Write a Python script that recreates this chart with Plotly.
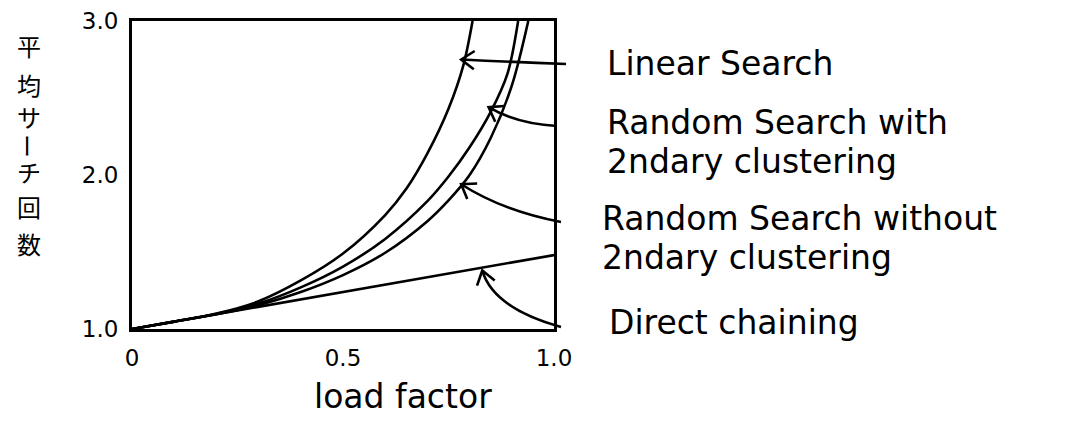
import math
import plotly.graph_objects as go

# ---------------- data ----------------
lf_linear = [0.0, 0.1, 0.2, 0.3, 0.4, 0.5, 0.6, 0.65, 0.7, 0.75, 0.785, 0.807]
avg_linear = [1.0, 1.048, 1.10, 1.18, 1.315, 1.49, 1.74, 1.91, 2.14, 2.43, 2.71, 3.0]

lf_rand_with = [0.0, 0.1, 0.2, 0.3, 0.4, 0.5, 0.6, 0.7, 0.75, 0.8, 0.85, 0.89, 0.915]
avg_rand_with = [1.0, 1.048, 1.098, 1.165, 1.27, 1.405, 1.585, 1.83, 1.99, 2.18, 2.41, 2.66, 3.0]

lf_rand_without = [0.0, 0.1, 0.2, 0.3, 0.4, 0.5, 0.6, 0.7, 0.75, 0.8, 0.85, 0.9, 0.939]
avg_rand_without = [1.0, 1.048, 1.096, 1.155, 1.24, 1.35, 1.495, 1.70, 1.835, 2.0, 2.24, 2.58, 3.0]

lf_direct = [0.0, 1.0]
avg_direct = [1.0, 1.48]

x_ticks = [0, 0.5, 1.0]
x_tick_labels = ["0", "0.5", "1.0"]
y_ticks = [1.0, 2.0, 3.0]
y_tick_labels = ["1.0", "2.0", "3.0"]

x_title = "load factor"
y_title = "平均サーチ回数"

label_lines = [
    "Linear Search",
    "Random Search with",
    "2ndary clustering",
    "Random Search without",
    "2ndary clustering",
    "Direct chaining",
]
# arrow target points on each curve (data units)
arrow_targets = [(0.78, 2.75), (0.845, 2.44), (0.78, 1.94), (0.83, 1.38)]

# ---------------- layout constants ----------------
BODY = 8                      # default page margin of the html body
W, H = 1069 - BODY, 425 - BODY
ML, MT = 132 - BODY, 21 - BODY
PW, PH = 422, 308
MR = W - ML - PW
MB = H - MT - PH
X_RANGE = [0, 1.0]
Y_RANGE = [1.0, 3.0]
HAND = "DejaVu Sans"
INK = "black"
LW = 2.6


def px_to_paper(px, py):
    """page pixel (reference picture) -> paper coords of the plot area"""
    return (px - 132) / PW, 1 - (py - 21) / PH


def to_paper(x, y):
    return ((x - X_RANGE[0]) / (X_RANGE[1] - X_RANGE[0]),
            (y - Y_RANGE[0]) / (Y_RANGE[1] - Y_RANGE[0]))


fig = go.Figure()
curve_style = dict(mode="lines", line=dict(color=INK, width=LW, shape="spline", smoothing=0.9),
                   hoverinfo="skip", showlegend=False)
fig.add_trace(go.Scatter(x=lf_linear, y=avg_linear, name="Linear Search", **curve_style))
fig.add_trace(go.Scatter(x=lf_rand_with, y=avg_rand_with, name="Random Search with 2ndary clustering", **curve_style))
fig.add_trace(go.Scatter(x=lf_rand_without, y=avg_rand_without, name="Random Search without 2ndary clustering", **curve_style))
fig.add_trace(go.Scatter(x=lf_direct, y=avg_direct, mode="lines", name="Direct chaining",
                         line=dict(color=INK, width=LW), hoverinfo="skip", showlegend=False))

# tails and control points (reference-picture pixels) for the curved arrows
arrow_tails_px = [(566, 64), (557, 126), (561, 222), (561, 327)]
arrow_ctrl_px = [(512, 62), (517, 124), (503, 211), (493, 308)]

shapes = []
for (tpx, tpy), (cpx, cpy), (dx, dy) in zip(arrow_tails_px, arrow_ctrl_px, arrow_targets):
    tx, ty = px_to_paper(tpx, tpy)
    cx, cy = px_to_paper(cpx, cpy)
    hx, hy = to_paper(dx, dy)
    shapes.append(dict(type="path", xref="paper", yref="paper",
                       path=f"M {tx},{ty} Q {cx},{cy} {hx},{hy}",
                       line=dict(color=INK, width=LW)))
    # open V arrowhead, computed in pixel space
    vx = (cx - hx) * PW
    vy = (cy - hy) * PH
    n = math.hypot(vx, vy)
    vx, vy = vx / n, vy / n
    L = 16
    arms = []
    for ang in (math.radians(35), -math.radians(35)):
        ax = vx * math.cos(ang) - vy * math.sin(ang)
        ay = vx * math.sin(ang) + vy * math.cos(ang)
        arms.append((hx + ax * L / PW, hy + ay * L / PH))
    shapes.append(dict(type="path", xref="paper", yref="paper",
                       path=f"M {arms[0][0]},{arms[0][1]} L {hx},{hy} L {arms[1][0]},{arms[1][1]}",
                       line=dict(color=INK, width=LW)))

annotations = []
label_px = [(605, 63), (605, 122), (605, 161), (600, 218), (600, 258), (607, 322)]
for txt, (lpx, lpy) in zip(label_lines, label_px):
    lx, ly = px_to_paper(lpx, lpy)
    annotations.append(dict(text=txt, x=lx, y=ly, xref="paper", yref="paper",
                            xanchor="left", yanchor="middle", align="left", showarrow=False,
                            font=dict(family=HAND, size=33, color=INK)))

tx, ty = px_to_paper(403, 396)
annotations.append(dict(text=x_title, x=tx, y=ty, xref="paper", yref="paper",
                        xanchor="center", yanchor="middle", showarrow=False,
                        font=dict(family=HAND, size=33, color=INK)))

# vertical (tategaki) y title, one character per row
char_centers_py = [45, 84, 116, 146, 171, 206, 243]
for ch, cpy in zip(y_title, char_centers_py):
    cx, cy = px_to_paper(29, cpy)
    annotations.append(dict(text=ch, x=cx, y=cy, xref="paper", yref="paper",
                            xanchor="center", yanchor="middle", showarrow=False,
                            textangle=90 if ch == "ー" else 0,
                            font=dict(family="Noto Sans CJK JP", size=24, color=INK)))

fig.update_layout(
    width=W, height=H,
    margin=dict(l=ML, r=MR, t=MT, b=MB, pad=0, autoexpand=False),
    paper_bgcolor="white", plot_bgcolor="white",
    shapes=shapes, annotations=annotations,
    xaxis=dict(range=X_RANGE, tickvals=x_ticks, ticktext=x_tick_labels, showgrid=False, zeroline=False,
               showline=True, mirror=True, linecolor=INK, linewidth=3, ticks="", automargin=False,
               ticklabelstandoff=6, tickfont=dict(family=HAND, size=23, color=INK)),
    yaxis=dict(range=Y_RANGE, tickvals=y_ticks, ticktext=y_tick_labels, showgrid=False, zeroline=False,
               showline=True, mirror=True, linecolor=INK, linewidth=3, ticks="", automargin=False,
               ticklabelstandoff=6, tickfont=dict(family=HAND, size=23, color=INK)),
)

fig.write_html("out.html")
